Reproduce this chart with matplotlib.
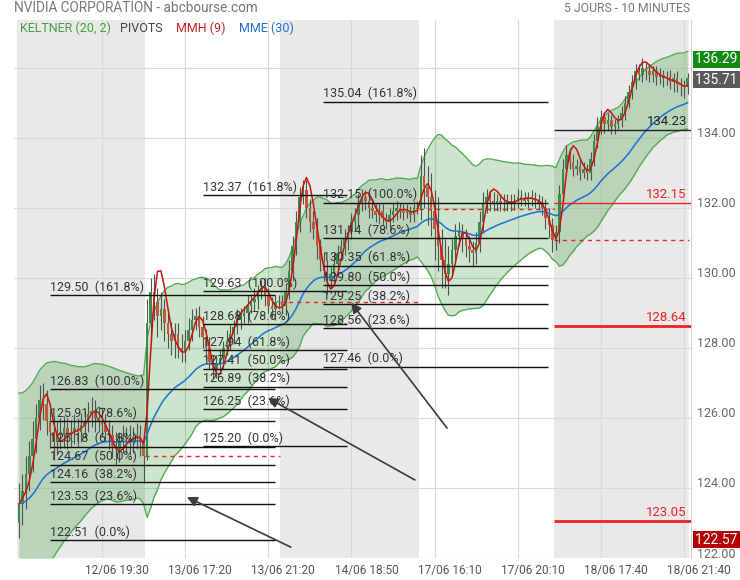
import numpy as np
import matplotlib.pyplot as plt
from matplotlib.transforms import ScaledTranslation, Bbox, TransformedBbox, blended_transform_factory

plt.rcParams['font.family'] = ['Roboto', 'DejaVu Sans']

# ---- data (10 minute bars, 5 sessions) ----
first_open = 123.0
closes = [
    # 12/06
    123.55, 123.9, 124.4, 124.9, 125.4, 126.0, 126.5, 126.4, 125.9, 125.6, 125.3, 125.6, 125.5,
    125.7, 125.5, 125.6, 125.7, 125.6, 125.8, 125.9, 126.1, 126.2, 126.0, 125.9, 125.8, 125.6,
    125.5, 125.2, 125.1, 125.3, 125.45, 125.4, 125.3, 125.45, 125.5, 125.3, 124.9,
    # 13/06
    128.7, 129.6, 129.3, 128.9, 129.1, 128.7, 128.4, 128.2, 128.4, 128.0, 127.9, 128.2, 128.5,
    128.8, 128.9, 128.6, 128.3, 128.0, 127.6, 127.4, 127.5, 127.7, 128.0, 128.2, 128.4, 128.6,
    128.8, 128.9, 129.0, 129.2, 129.3, 129.4, 129.6, 129.7, 129.5, 129.2, 129.1, 129.3, 129.3,
    # 14/06
    129.2, 129.6, 130.2, 130.9, 131.6, 132.3, 132.5, 132.0, 131.6, 131.4, 130.9, 130.5, 130.2,
    129.9, 130.1, 130.4, 130.7, 130.9, 131.1, 131.3, 131.6, 131.8, 132.1, 132.3, 132.2, 132.0,
    131.9, 131.8, 131.9, 131.7, 131.6, 131.8, 131.9, 132.0, 131.9, 131.85, 131.9, 131.8, 132.0, 131.97,
    # 17/06
    132.9, 132.6, 132.3, 131.9, 131.4, 130.9, 130.5, 130.1, 130.4, 130.8, 131.2, 131.3, 131.1,
    130.9, 130.8, 130.7, 131.0, 131.6, 132.1, 132.3, 132.2, 132.1, 132.2, 132.15, 132.1, 132.2,
    132.15, 132.2, 132.3, 132.25, 132.2, 132.3, 132.25, 132.2, 132.15, 132.0, 131.7, 131.5, 131.09,
    # 18/06
    131.3, 132.4, 133.1, 133.5, 133.3, 133.1, 133.2, 133.0, 133.1, 133.0, 133.4, 133.9, 134.3,
    134.6, 134.4, 134.5, 134.3, 134.4, 134.5, 134.7, 135.0, 135.3, 135.6, 135.9, 135.8, 136.0,
    135.9, 135.8, 135.9, 135.75, 135.8, 135.7, 135.75, 135.6, 135.7, 135.55, 135.5, 135.45, 135.71,
]
wick_up = [
    0.6, 0.5, 0.5, 0.45, 0.5, 0.4, 0.45, 0.5, 0.4, 0.35, 0.45, 0.3, 0.4, 0.35, 0.3, 0.35, 0.4, 0.3, 0.35,
    0.3, 0.35, 0.4, 0.3, 0.35, 0.4, 0.3, 0.35, 0.3, 0.4, 0.3, 0.35, 0.3, 0.4, 0.3, 0.35, 0.3, 0.2,
    0.7, 0.4, 0.5, 0.4, 0.5, 0.3, 0.4, 0.35, 0.3, 0.3, 0.4, 0.3, 0.35, 0.3, 0.25, 0.3, 0.3, 0.25, 0.3,
    0.2, 0.3, 0.25, 0.2, 0.3, 0.25, 0.2, 0.3, 0.25, 0.2, 0.3, 0.25, 0.3, 0.2, 0.25, 0.3, 0.2, 0.25, 0.2, 0.2,
    0.2, 0.25, 0.3, 0.3, 0.3, 0.3, 0.3, 0.3, 0.25, 0.3, 0.3, 0.2, 0.25, 0.3, 0.2, 0.3, 0.25, 0.2, 0.3, 0.2,
    0.25, 0.2, 0.3, 0.25, 0.2, 0.3, 0.2, 0.2, 0.25, 0.2, 0.15, 0.2, 0.25, 0.2, 0.15, 0.2, 0.2, 0.15, 0.2, 0.2,
    0.6, 0.8, 0.6, 0.7, 0.6, 0.9, 0.5, 0.6, 0.5, 0.3, 0.35, 0.3, 0.25, 0.3, 0.3, 0.25, 0.3, 0.3, 0.35, 0.25,
    0.2, 0.25, 0.2, 0.2, 0.25, 0.2, 0.2, 0.2, 0.25, 0.2, 0.2, 0.15, 0.2, 0.2, 0.2, 0.2, 0.25, 0.3, 0.2,
    0.2, 0.25, 0.3, 0.3, 0.2, 0.25, 0.2, 0.2, 0.2, 0.15, 0.2, 0.2, 0.3, 0.2, 0.15, 0.2, 0.15, 0.15, 0.15, 0.2,
    0.2, 0.2, 0.2, 0.2, 0.2, 0.29, 0.15, 0.2, 0.15, 0.15, 0.2, 0.15, 0.15, 0.2, 0.15, 0.2, 0.15, 0.15, 0.15,
]
wick_down = [
    0.43, 0.6, 0.5, 0.5, 0.45, 0.4, 0.35, 0.45, 0.4, 0.45, 0.5, 0.35, 0.4, 0.35, 0.4, 0.3, 0.35, 0.4, 0.3,
    0.35, 0.3, 0.35, 0.4, 0.3, 0.35, 0.3, 0.4, 0.35, 0.45, 0.35, 0.3, 0.4, 0.35, 0.3, 0.35, 0.4, 0.75,
    0.1, 0.6, 0.5, 0.6, 0.4, 0.5, 0.4, 0.4, 0.5, 0.3, 0.3, 0.3, 0.25, 0.3, 0.3, 0.3, 0.3, 0.35, 0.2, 0.3,
    0.25, 0.2, 0.3, 0.2, 0.25, 0.3, 0.2, 0.25, 0.2, 0.3, 0.2, 0.25, 0.3, 0.2, 0.3, 0.2, 0.25, 0.3, 0.2,
    0.2, 0.25, 0.2, 0.3, 0.25, 0.3, 0.2, 0.3, 0.3, 0.3, 0.35, 0.3, 0.3, 0.35, 0.2, 0.25, 0.3, 0.2, 0.25, 0.3,
    0.2, 0.25, 0.3, 0.2, 0.25, 0.3, 0.2, 0.2, 0.25, 0.2, 0.2, 0.15, 0.2, 0.25, 0.2, 0.2, 0.15, 0.2, 0.2, 0.15,
    0.3, 0.6, 0.8, 0.7, 0.9, 0.7, 0.8, 0.4, 0.6, 0.3, 0.3, 0.3, 0.35, 0.3, 0.35, 0.4, 0.3, 0.25, 0.3, 0.25,
    0.3, 0.2, 0.2, 0.25, 0.2, 0.2, 0.25, 0.2, 0.2, 0.2, 0.15, 0.2, 0.2, 0.2, 0.2, 0.2, 0.3, 0.35, 0.34,
    0.3, 0.3, 0.25, 0.2, 0.2, 0.2, 0.15, 0.2, 0.15, 0.2, 0.2, 0.2, 0.2, 0.2, 0.25, 0.2, 0.2, 0.2, 0.15, 0.2,
    0.2, 0.15, 0.2, 0.2, 0.15, 0.2, 0.25, 0.2, 0.2, 0.25, 0.2, 0.25, 0.2, 0.2, 0.3, 0.25, 0.3, 0.3, 0.2,
]
day_sizes = [37, 39, 40, 39, 39]

tick_pos = [24, 48, 72, 96, 120, 144, 168, 192]
tick_labels = ['12/06 19:30', '13/06 17:20', '13/06 21:20', '14/06 18:50',
               '17/06 16:10', '17/06 20:10', '18/06 17:40', '18/06 21:40']

fib_pcts = ['0.0%', '23.6%', '38.2%', '50.0%', '61.8%', '78.6%', '100.0%', '161.8%']
fib_a = [122.51, 123.53, 124.16, 124.67, 125.18, 125.91, 126.83, 129.50]
fib_b = [125.20, 126.25, 126.89, 127.41, 127.94, 128.68, 129.63, 132.37]
fib_c = [127.46, 128.56, 129.25, 129.80, 130.35, 131.14, 132.15, 135.04]
fib_spans = [(9.0, 73.9), (53.2, 94.7), (87.8, 152.7)]

pivot_values = [134.23, 132.15, 128.64, 123.05]
pivot_colors = ['#222222', '#ee2222', '#ee2222', '#ee2222']
pivot_widths = [1.0, 1.0, 2.0, 2.0]

arrow_heads = [(95.9, 129.29), (71.9, 126.57), (48.5, 123.74)]
arrow_tails = [(123.6, 125.71), (114.3, 124.23), (78.5, 122.31)]

# ---- derived series ----
c = np.array(closes)
o = np.array([first_open] + closes[:-1])
h = np.maximum(o, c) + np.array(wick_up)
l = np.minimum(o, c) - np.array(wick_down)
x = np.arange(len(c))


def ema(v, n):
    a = 2.0 / (n + 1)
    out = np.empty(len(v))
    out[0] = v[0]
    for i in range(1, len(v)):
        out[i] = out[i - 1] + a * (v[i] - out[i - 1])
    return out


def wma(v, n):
    out = np.empty(len(v))
    for i in range(len(v)):
        w = v[max(0, i - n + 1):i + 1]
        k = np.arange(1, len(w) + 1)
        out[i] = (w * k).sum() / k.sum()
    return out


mme = ema(c, 30)
mmh = wma(2 * wma(c, 4) - wma(c, 9), 3)
prev_c = np.concatenate([[c[0]], c[:-1]])
tr = np.maximum(h - l, np.maximum(abs(h - prev_c), abs(l - prev_c)))
tr[0] = h[0] - l[0]
mid = ema(c, 20)
atr = ema(tr, 20)
kel_up = mid + 2 * atr
kel_dn = mid - 2 * atr

starts = np.cumsum([0] + day_sizes[:-1])

# ---- figure ----
fig = plt.figure(figsize=(7.4, 5.8), dpi=100)
ax = fig.add_axes([14 / 740, 22 / 580, 677 / 740, 538 / 580])
ax.set_xlim(-1.41, 194.0)
ax.set_ylim(122.0, 137.37)

for d, (s, n) in enumerate(zip(starts, day_sizes)):
    if d % 2 == 0:
        ax.axvspan(s - 0.5, s + n - 0.5, color='#e9e9e9', lw=0, zorder=0)

ax.set_axisbelow(True)
ax.grid(True, color='#d9d9d9', lw=0.8)
ax.set_yticks(np.arange(122, 137, 2))
ax.set_xticks(tick_pos, tick_labels)
ax.tick_params(axis='x', length=0, pad=4, labelsize=8.6, labelcolor='#555555')
ax.tick_params(axis='y', length=0, labelleft=False, labelright=False)
for lab in ax.get_xticklabels():
    lab.set_transform(lab.get_transform() + ScaledTranslation(0.15, 0, fig.dpi_scale_trans))
for sp in ['top', 'left', 'bottom']:
    ax.spines[sp].set_visible(False)
ax.spines['right'].set_color('#d0d0d0')

# keltner
ax.fill_between(x, kel_dn, kel_up, color='#008000', alpha=0.2, lw=0, zorder=1)
ax.plot(x, kel_up, color='#55aa55', lw=1, zorder=2)
ax.plot(x, kel_dn, color='#55aa55', lw=1, zorder=2)

# previous close per session
for s, n in zip(starts[1:], day_sizes[1:]):
    ax.hlines(c[s - 1], s - 0.5, s + n - 0.5, colors='#ee2222', linestyles=(0, (3, 3)), lw=1, zorder=2)

# candles
up = c >= o
ax.vlines(x, l, h, colors='#505050', lw=0.8, zorder=3)
body = np.where(np.abs(c - o) < 0.03, 0.03, c - o)
ax.bar(x[up], body[up], bottom=o[up], width=0.72, color='#3b8a4c', lw=0, zorder=4)
ax.bar(x[~up], body[~up], bottom=o[~up], width=0.72, color='#b95a3d', lw=0, zorder=4)

ax.plot(x, mme, color='#1f6fd6', lw=1.1, zorder=5)
ax.plot(x, mmh, color='#cc1111', lw=1.1, zorder=5)

# fibonacci levels
for vals, (x0, x1) in zip([fib_a, fib_b, fib_c], fib_spans):
    for v, p in zip(vals, fib_pcts):
        ax.hlines(v, x0, x1, colors='#111111', lw=1.0, zorder=6)
        ax.text(x0, v + 0.04, f'{v:.2f}  ({p})', fontsize=9, color='#333333',
                va='bottom', ha='left', zorder=7)

# pivots on last session
s5 = starts[-1]
for v, col, w in zip(pivot_values, pivot_colors, pivot_widths):
    ax.hlines(v, s5 - 0.5, 194.0, colors=col, lw=w, zorder=6)
    ax.text(192.8, v + 0.05, f'{v:.2f}', fontsize=9.5, color=col, ha='right', va='bottom', zorder=7)

for hd, tl in zip(arrow_heads, arrow_tails):
    ax.annotate('', xy=hd, xytext=tl,
                arrowprops=dict(arrowstyle='-|>', color='#3a3a3a', lw=1.2, mutation_scale=15,
                                shrinkA=0, shrinkB=0), zorder=8)

# right axis labels, clipped to the plot height
clip = TransformedBbox(Bbox([[1.0, 0.0], [1.2, 1.0]]), ax.transAxes)
ytr = blended_transform_factory(ax.transAxes, ax.transData)
for v in np.arange(122, 137, 2):
    t = ax.text(1.0, v, f'{v:.2f}', transform=ytr + ScaledTranslation(6 / 100, 4 / 100, fig.dpi_scale_trans),
                fontsize=9, color='#666666', va='center', ha='left')
    t.set_clip_box(clip)
    t.set_clip_on(True)

badges = [(h.max(), '#138a13'), (c[-1], '#5a5a5a'), (l.min(), '#b30000')]
for v, col in badges:
    ax.text(1.0, v, f'{v:.2f} ', transform=ytr + ScaledTranslation(4 / 100, -1.5 / 100, fig.dpi_scale_trans),
            fontsize=10, color='white', va='center', ha='left',
            bbox=dict(boxstyle='square,pad=0.12', fc=col, ec='none'), zorder=9)

# header and legend
fig.text(14 / 740, 1 - 8 / 580, 'NVIDIA CORPORATION - abcbourse.com', fontsize=9.8, color='#777777', va='center')
fig.text(690 / 740, 1 - 8 / 580, '5 JOURS - 10 MINUTES', fontsize=8.8, color='#777777', va='center', ha='right')
legend = [('KELTNER (20, 2)', '#3f9f3f', 20), ('PIVOTS', '#444444', 120),
          ('MMH (9)', '#c62222', 176), ('MME (30)', '#1e6fd0', 239)]
for txt, col, px in legend:
    fig.text(px / 740, 1 - 28 / 580, txt, fontsize=9, color=col, va='center')

fig.savefig('out.png', dpi=100)
